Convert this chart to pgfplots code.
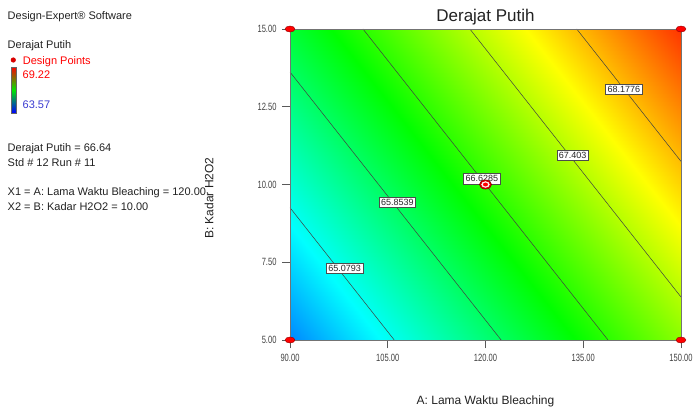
\documentclass[border=0pt]{standalone}
\usepackage{fontspec}
\setmainfont{Liberation Sans}
\newfontfamily\narrowfont[FakeStretch=0.72]{Liberation Sans}
\usepackage{pgfplots}
\pgfplotsset{compat=1.18}
\definecolor{txt}{HTML}{222222}
\definecolor{tickc}{HTML}{404040}
\definecolor{lowc}{HTML}{3A3AD0}
\tikzset{lbl/.style={draw=black!70, fill=white, line width=0.5pt, inner sep=2pt, font=\fontsize{9}{10}\selectfont, text=black!85}}
\begin{document}
\begin{tikzpicture}[x=1pt,y=1pt]
\useasboundingbox (0,0) rectangle (693,-408);
% ---- left information panel ----
\begin{scope}[every node/.style={anchor=base west, inner sep=0pt, font=\fontsize{11}{13}\selectfont, text=txt}]
\node at (7.5,-19.3) {Design-Expert® Software};
\node at (7.5,-48.3) {Derajat Putih};
\node[text=red] at (22.7,-64) {Design Points};
\node[text=red] at (22.5,-78) {69.22};
\node[text=lowc] at (22.5,-108) {63.57};
\node at (7.5,-151) {Derajat Putih = 66.64};
\node at (7.5,-166) {Std \# 12 Run \# 11};
\node at (7.5,-195) {X1 = A: Lama Waktu Bleaching = 120.00};
\node at (7.5,-210) {X2 = B: Kadar H2O2 = 10.00};
\end{scope}
\fill[red!85!black] (13.3,-60) circle (2.6);
\shade[top color=red, bottom color=blue, middle color=green!90!black] (11,-67) rectangle (16.5,-113);
\draw[black!60, line width=0.4pt] (11,-67) rectangle (16.5,-113);
% ---- axis labels and title ----
\node[anchor=base, font=\fontsize{17}{19}\selectfont, text=txt, inner sep=0pt] at (485.5,-21.7) {Derajat Putih};
\node[anchor=base, font=\fontsize{12}{14}\selectfont, text=txt, inner sep=0pt] at (485.5,-404) {A: Lama Waktu Bleaching};
\node[rotate=90, font=\fontsize{12}{14}\selectfont, text=txt, inner sep=0pt] at (209,-198) {B: Kadar H2O2};
% ---- contour plot ----
\begin{axis}[
  at={(290pt,-340pt)}, anchor=south west,
  scale only axis, width=391pt, height=311pt,
  view={0}{90},
  xmin=90, xmax=150, ymin=5, ymax=15,
  xtick={90,105,120,135,150}, ytick={5,7.5,10,12.5,15},
  ztick=\empty,
  xtick pos=left, ytick pos=left,
  tick align=outside, major tick length=8pt,
  axis line style={draw=black!55, line width=0.5pt},
  tick style={draw=black!65, line width=0.6pt},
  ticklabel style={font=\narrowfont\fontsize{10.5}{11}\selectfont, text=tickc},
  xticklabel style={yshift=-3pt},
  yticklabel style={xshift=-2pt},
  /pgf/number format/.cd, fixed, fixed zerofill, precision=2, assume math mode=true, /pgfplots/.cd,
  colormap={de}{rgb255(0cm)=(0,0,255); rgb255(1cm)=(0,255,255); rgb255(2cm)=(0,255,0); rgb255(3cm)=(255,255,0); rgb255(4cm)=(255,0,0)},
  point meta min=63.57, point meta max=69.22,
  clip=false,
  cline/.style={draw=black!75, line width=0.5pt, no markers},
]
\addplot3[surf, shader=interp] table {
x y z
90 5 64.3236
105 5 65.0320
120 5 65.7405
135 5 66.4490
150 5 67.1574

90 7.5 64.7676
105 7.5 65.4760
120 7.5 66.1845
135 7.5 66.8930
150 7.5 67.6014

90 10 65.2116
105 10 65.9200
120 10 66.6285
135 10 67.3370
150 10 68.0454

90 12.5 65.6556
105 12.5 66.3640
120 12.5 67.0725
135 12.5 67.7810
150 12.5 68.4894

90 15 66.0996
105 15 66.8080
120 15 67.5165
135 15 68.2250
150 15 68.9334
};
\addplot3[cline] coordinates {(90,9.255,65.0793) (106.0,5,65.0793)} node[pos=0.46, xshift=6.6pt, lbl] {65.0793};
\addplot3[cline] coordinates {(90,13.617,65.8539) (122.4,5,65.8539)} node[pos=0.485, xshift=5pt, lbl] {65.8539};
\addplot3[cline] coordinates {(101.2,15,66.6285) (138.8,5,66.6285)} node[pos=0.481, xshift=1pt, lbl] {66.6285};
\addplot3[cline] coordinates {(117.6,15,67.403) (150,6.383,67.403)} node[pos=0.472, xshift=3pt, lbl] {67.403};
\addplot3[cline] coordinates {(134.0,15,68.1776) (150,10.744,68.1776)} node[pos=0.453, lbl] {68.1776};
% design points
\addplot3[only marks, mark=*, mark size=3pt, mark options={fill=red, draw=red!60!black, line width=0.4pt, xscale=1.65}] coordinates {(90,5,69) (90,15,69) (150,5,69) (150,15,69)};
\addplot3[only marks, mark=*, mark size=4.6pt, mark options={fill=red!85!black, draw=red!50!black, line width=0.5pt, xscale=1.33}] coordinates {(120,10,69)};
\addplot3[only marks, mark=*, mark size=2.9pt, mark options={fill=white, draw=white, xscale=1.35}] coordinates {(120,10,69)};
\addplot3[only marks, mark=*, mark size=1.7pt, mark options={fill=red, draw=red, xscale=1.35}] coordinates {(120,10,69)};
\end{axis}
\end{tikzpicture}
\end{document}
